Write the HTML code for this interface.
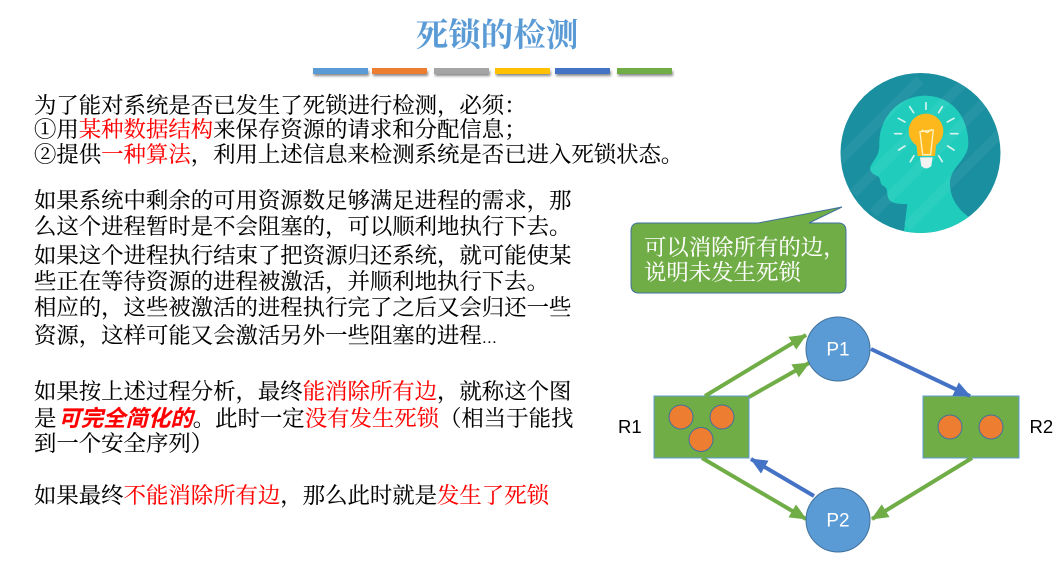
<!DOCTYPE html>
<html lang="zh">
<head>
<meta charset="utf-8">
<title>死锁的检测</title>
<style>
html,body{margin:0;padding:0;background:#fff;width:1063px;height:564px;overflow:hidden}
svg{display:block}
.t{font-family:"Liberation Serif","Noto Serif CJK SC",serif;font-size:22.4px;fill:#000;stroke:#000;stroke-width:.12px}
.r{fill:#ff0000;stroke:#ff0000}
.b{font-family:"Liberation Sans","Noto Sans CJK SC",sans-serif;font-weight:700;font-style:italic;fill:#ff0000;stroke:#ff0000}
.w{fill:#fff;stroke:#fff;font-size:22.4px}
.l{font-family:"Liberation Sans",sans-serif;font-size:18.5px;fill:#000}
.p{font-family:"Liberation Sans",sans-serif;font-size:19px;fill:#fff;text-anchor:middle}
</style>
</head>
<body>
<svg width="1063" height="564" viewBox="0 0 1063 564" xmlns="http://www.w3.org/2000/svg">
<defs>
<marker id="g" markerUnits="userSpaceOnUse" markerWidth="17" markerHeight="15" refX="16" refY="7.5" orient="auto"><path d="M0 0L17 7.500L0 15Z" fill="#70ad47"/></marker>
<marker id="bl" markerUnits="userSpaceOnUse" markerWidth="17" markerHeight="15" refX="16" refY="7.5" orient="auto"><path d="M0 0L17 7.500L0 15Z" fill="#4472c4"/></marker>
<clipPath id="cc"><circle cx="920.5" cy="153" r="80"/></clipPath>
<filter id="sh" x="-10%" y="-100%" width="120%" height="300%"><feGaussianBlur stdDeviation="1.2"/></filter>
</defs>

<text x="497" y="46" text-anchor="middle" style="font-family:'Liberation Serif','Noto Serif CJK SC',serif;font-size:32.5px;font-weight:700;fill:#5b9bd5">死锁的检测</text>

<g fill="#888" filter="url(#sh)">
<rect x="314" y="71" width="55" height="5"/><rect x="373" y="71" width="55" height="5"/><rect x="435" y="71" width="55" height="5"/><rect x="496" y="71" width="55" height="5"/><rect x="556" y="71" width="55" height="5"/><rect x="618" y="71" width="55" height="5"/>
</g>
<rect x="313" y="68" width="55" height="6" fill="#5b9bd5"/>
<rect x="372" y="68" width="55" height="6" fill="#ed7d31"/>
<rect x="434" y="68" width="55" height="6" fill="#a5a5a5"/>
<rect x="495" y="68" width="55" height="6" fill="#ffc000"/>
<rect x="555" y="68" width="55" height="6" fill="#4472c4"/>
<rect x="617" y="68" width="55" height="6" fill="#70ad47"/>

<text class="t" x="34" y="113">为了能对系统是否已发生了死锁进行检测，必须：</text>
<text class="t" x="34" y="137">①用<tspan class="r">某种数据结构</tspan>来保存资源的请求和分配信息；</text>
<text class="t" x="34" y="162">②提供<tspan class="r">一种算法</tspan>，利用上述信息来检测系统是否已进入死锁状态。</text>

<text class="t" x="34" y="208">如果系统中剩余的可用资源数足够满足进程的需求，那</text>
<text class="t" x="34" y="234">么这个进程暂时是不会阻塞的，可以顺利地执行下去。</text>
<text class="t" x="34" y="263">如果这个进程执行结束了把资源归还系统，就可能使某</text>
<text class="t" x="34" y="289">些正在等待资源的进程被激活，并顺利地执行下去。</text>
<text class="t" x="34" y="315">相应的，这些被激活的进程执行完了之后又会归还一些</text>
<text class="t" x="34" y="343">资源，这样可能又会激活另外一些阻塞的进程<tspan style="font-size:15px">…</tspan></text>

<text class="t" x="34" y="399">如果按上述过程分析，最终<tspan class="r">能消除所有边</tspan>，就称这个图</text>
<text class="t" x="34" y="426">是<tspan class="b" dx="2">可完全简化的</tspan>。此时一定<tspan class="r">没有发生死锁</tspan>（相当于能找</text>
<text class="t" x="34" y="451">到一个安全序列）</text>
<text class="t" x="34" y="503">如果最终<tspan class="r">不能消除所有边</tspan>，那么此时就是<tspan class="r">发生了死锁</tspan></text>

<!-- icon -->
<circle cx="920.5" cy="153" r="80" fill="#1a8fa0"/>
<g clip-path="url(#cc)">
<g transform="translate(620 80) scale(.3333)">
<path d="M850 470L862 372C835 372 812 372 804 352C800 335 806 325 786 315C778 305 785 295 770 287C752 280 748 268 752 258C765 235 778 225 778 195C775 110 840 48 915 47C1000 48 1045 115 1045 190C1045 240 990 260 990 310C990 360 1020 395 1060 420L1060 470Z" fill="#20cdbd"/>
<g stroke="#ffffff" stroke-opacity=".05" stroke-width="30">
<path d="M640 260L900 0M700 340L1040 0M760 400L1160 0M860 440L1200 100"/>
</g>
<circle cx="918" cy="153" r="52" fill="#fdb81e"/>
<path d="M888 180L950 180L945 228H893Z" fill="#fdb81e"/>
<path d="M900 232H938L934 258Q919 272 904 258Z" fill="#f2f2f2"/>
<path d="M900 155L940 150L932 224H908ZM905 150L922 158L936 148" fill="none" stroke="#fff3c0" stroke-width="4"/>
<g stroke="#d5f3ee" stroke-width="5" stroke-linecap="round">
<path d="M918 68V88M869 80L881 98M967 80L956 98M835 115L855 126M1002 115L982 126M824 161H845M992 161H1014M836 210L855 198M1002 210L983 198M871 245L882 227M967 245L956 227"/>
</g>
</g>
</g>

<!-- callout -->
<path d="M639 223H758L842 207L809 223H838Q846 223 846 231V285Q846 293 838 293H639Q631 293 631 285V231Q631 223 639 223Z" fill="#70ad47" stroke="#41719c" stroke-width="1"/>
<text class="t w" x="644" y="255">可以消除所有的边，</text>
<text class="t w" x="644" y="280">说明未发生死锁</text>

<!-- graph -->
<rect x="654" y="396" width="95" height="62" fill="#70ad47" stroke="#5b9bd5" stroke-width="1"/>
<rect x="923" y="396" width="96" height="62" fill="#70ad47" stroke="#5b9bd5" stroke-width="1"/>
<g fill="#ed7d31" stroke="#41719c" stroke-width="1">
<circle cx="681" cy="417" r="12"/><circle cx="722" cy="417" r="12"/><circle cx="701" cy="439.500" r="12"/>
<circle cx="950" cy="427" r="12"/><circle cx="991" cy="427" r="12"/>
</g>
<g fill="none" stroke-width="4">
<path d="M705 396L806 335" stroke="#70ad47" marker-end="url(#g)"/>
<path d="M749 397L809 363" stroke="#70ad47" marker-end="url(#g)"/>
<path d="M702 458L806 519" stroke="#70ad47" marker-end="url(#g)"/>
<path d="M972 458L872 519" stroke="#70ad47" marker-end="url(#g)"/>
<path d="M871 349L970 396" stroke="#4472c4" marker-end="url(#bl)"/>
<path d="M814 496L751 459" stroke="#4472c4" marker-end="url(#bl)"/>
</g>
<circle cx="838" cy="349" r="32" fill="#5b9bd5" stroke="#41719c" stroke-width="1"/>
<circle cx="838" cy="520" r="32" fill="#5b9bd5" stroke="#41719c" stroke-width="1"/>
<text class="p" x="838" y="355.500">P1</text>
<text class="p" x="838" y="526.500">P2</text>
<text class="l" x="618" y="433">R1</text>
<text class="l" x="1029.500" y="433">R2</text>
</svg>
</body>
</html>
